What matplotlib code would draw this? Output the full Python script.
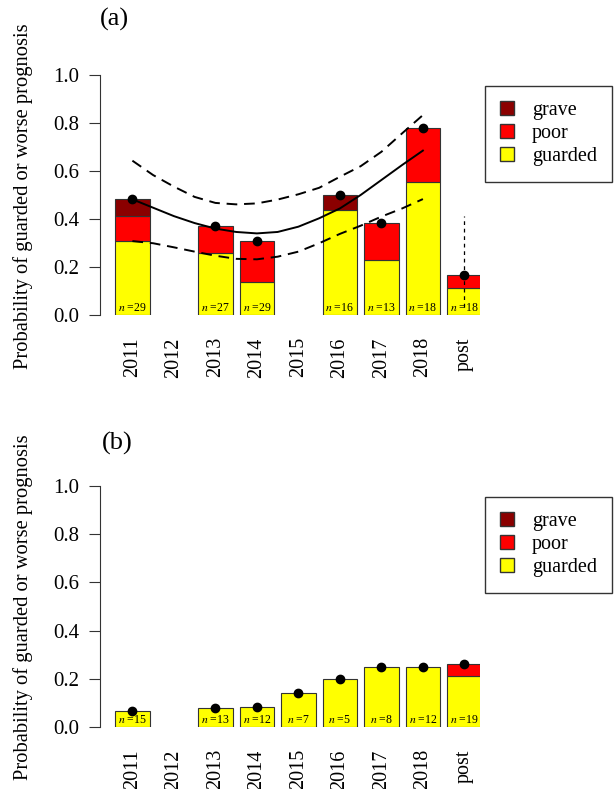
import numpy as np
import matplotlib
matplotlib.use('Agg')
import matplotlib.pyplot as plt
import matplotlib.patches as mpatches

plt.rcParams['font.family'] = ['Liberation Serif', 'DejaVu Serif']
plt.rcParams['mathtext.fontset'] = 'stix'

# categories (bar positions are the index in this list)
labels = ['2011', '2012', '2013', '2014', '2015', '2016', '2017', '2018', 'post']

# panel (a): proportions by prognosis, nan = no data
a_n = [29, None, 27, 29, None, 16, 13, 18, 18]
a_guarded = [0.310, np.nan, 0.259, 0.138, np.nan, 0.4375, 0.231, 0.556, 0.111]
a_poor = [0.103, np.nan, 0.111, 0.172, np.nan, 0.0, 0.154, 0.222, 0.056]
a_grave = [0.069, np.nan, 0.0, 0.0, np.nan, 0.0625, 0.0, 0.0, 0.0]

# panel (b)
b_n = [15, None, 13, 12, 7, 5, 8, 12, 19]
b_guarded = [0.067, np.nan, 0.077, 0.083, 0.143, 0.200, 0.250, 0.250, 0.211]
b_poor = [0.0, np.nan, 0.0, 0.0, 0.0, 0.0, 0.0, 0.0, 0.052]
b_grave = [0.0, np.nan, 0.0, 0.0, 0.0, 0.0, 0.0, 0.0, 0.0]

# fitted trend for (a) at half-year steps (0 = 2011)
fit_x = [0, 0.5, 1, 1.5, 2, 2.5, 3, 3.5, 4, 4.5, 5, 5.5, 6, 6.5, 7]
fit_mid = [0.482, 0.447, 0.412, 0.383, 0.360, 0.346, 0.340, 0.346, 0.368, 0.403,
           0.444, 0.500, 0.5625, 0.625, 0.685]
fit_hi = [0.643, 0.583, 0.535, 0.492, 0.467, 0.461, 0.465, 0.481, 0.503, 0.530,
          0.576, 0.620, 0.680, 0.757, 0.833]
fit_lo = [0.308, 0.299, 0.282, 0.264, 0.247, 0.234, 0.232, 0.243, 0.264, 0.299,
          0.338, 0.372, 0.410, 0.444, 0.483]
post_ci = [0.035, 0.414]

col_grave = '#8B0000'
col_poor = '#FF0000'
col_guarded = '#FFFF00'
W, H = 615, 789


def draw_panel(ax, n, guarded, poor, grave):
    x = np.arange(len(labels))
    for i in range(len(labels)):
        if np.isnan(guarded[i]):
            continue
        bottom = 0
        for val, col in [(guarded[i], col_guarded), (poor[i], col_poor), (grave[i], col_grave)]:
            if val > 0:
                ax.bar(x[i], val, bottom=bottom, width=0.83, color=col,
                       edgecolor='#333333', linewidth=0.8, zorder=2)
            bottom += val
        ax.plot(x[i], bottom, 'o', color='black', ms=6, zorder=5, clip_on=False)
        ax.text(x[i], 0.006, r'$n$ =' + str(n[i]), ha='center', va='bottom',
                fontsize=8.5, zorder=6)

    ax.set_xlim((100 - 132.4) / 41.5, (480 - 132.4) / 41.5)
    ax.set_ylim(0, 1)
    for s in ['top', 'right', 'bottom']:
        ax.spines[s].set_visible(False)
    ax.spines['left'].set_bounds(0, 1)
    ax.spines['left'].set_color('#333333')
    ax.set_yticks([0, 0.2, 0.4, 0.6, 0.8, 1.0])
    ax.set_yticklabels(['0.0', '0.2', '0.4', '0.6', '0.8', '1.0'])
    ax.tick_params(axis='y', length=8, width=0.8, pad=7, labelsize=15, color='#333333')
    ax.set_xticks(x)
    ax.set_xticklabels(labels, rotation=90, va='top')
    ax.tick_params(axis='x', length=0, pad=16, labelsize=14.5)

    patches = [mpatches.Patch(facecolor=c, edgecolor='#333333', label=l)
               for c, l in [(col_grave, 'grave'), (col_poor, 'poor'), (col_guarded, 'guarded')]]
    top = ax.get_position().y1 + (75 - 86) / H
    leg = ax.legend(handles=patches, loc='upper right', bbox_to_anchor=(612 / W, top),
                    bbox_transform=ax.figure.transFigure, fancybox=False, framealpha=1,
                    edgecolor='#333333', fontsize=14.5, handlelength=0.7, handleheight=0.7,
                    handletextpad=0.9, labelspacing=0.2, borderpad=0.75, borderaxespad=0)
    leg.get_frame().set_linewidth(1.0)


fig = plt.figure(figsize=(W / 100, H / 100), dpi=100)
ax1 = fig.add_axes([100 / W, 1 - 315 / H, 380 / W, 240 / H])
ax2 = fig.add_axes([100 / W, 1 - 727 / H, 380 / W, 241 / H])

draw_panel(ax1, a_n, a_guarded, a_poor, a_grave)
draw_panel(ax2, b_n, b_guarded, b_poor, b_grave)

# trend line and band for (a)
ax1.plot(fit_x, fit_mid, color='black', lw=1.4, zorder=4)
ax1.plot(fit_x, fit_hi, color='black', lw=1.4, dashes=(5.5, 3.5), zorder=4)
ax1.plot(fit_x, fit_lo, color='black', lw=1.4, dashes=(5.5, 3.5), zorder=4)
ax1.plot([8, 8], post_ci, color='black', lw=0.9, dashes=(3, 3), zorder=4)

ylab = 'Probability of guarded or worse prognosis'
fig.text(23 / W, 1 - 196 / H, ylab, rotation=90, ha='center', va='center', fontsize=14.8)
fig.text(23 / W, 1 - 607 / H, ylab, rotation=90, ha='center', va='center', fontsize=14.8)
fig.text(100 / W, 1 - 19 / H, '(a)', ha='left', va='center', fontsize=19)
fig.text(102 / W, 1 - 443 / H, '(b)', ha='left', va='center', fontsize=19)

fig.savefig('out.png', dpi=100)
